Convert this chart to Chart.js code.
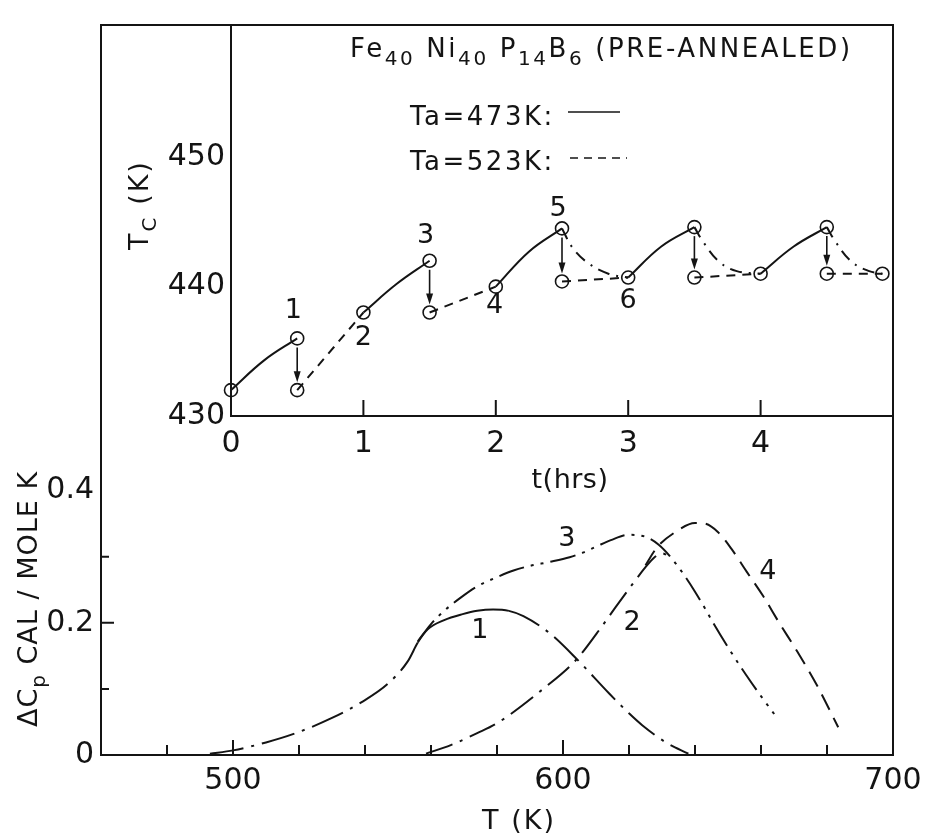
<!DOCTYPE html>
<html>
<head>
<meta charset="utf-8">
<script src="https://cdn.jsdelivr.net/npm/chart.js@4.4.1/dist/chart.umd.min.js"></script>
<style>
  html, body { margin: 0; padding: 0; background: #fff; }
  #wrap { position: relative; width: 932px; height: 840px; background: #fff; }
  #wrap canvas { position: absolute; left: 0; top: 0; }
</style>
</head>
<body>
<div id="wrap">
  <canvas id="cp" width="932" height="840"></canvas>
  <canvas id="tc" width="932" height="840"></canvas>
</div>
<script>
// ---- inset: Tc (K) vs annealing time t (hrs)
const hrsTicks = [0, 1, 2, 3, 4];
const tcTicks = [430, 440, 450];

// Ta = 473 K (solid)
const solidT = [0, 0.25, 0.5, null, 1, 1.25, 1.5, null, 2, 2.25, 2.5, null, 3, 3.25, 3.5, null, 4, 4.25, 4.5];
const solidK = [432, 434.3, 436, null, 438, 440.2, 442, null, 440, 442.7, 444.5, null, 440.7, 443.1, 444.6, null, 441, 443.1, 444.6];
// Ta = 523 K (dashed)
const dashT = [0.5, 1, null, 1.5, 2, null, 2.5, 3, null, 3.5, 4, null, 4.5, 4.92];
const dashK = [432, 438, null, 438, 440, null, 440.4, 440.7, null, 440.7, 441, null, 441, 441];
// relaxation back down after each 473 K step (dash-dot)
const decayT = [2.5, 2.58, 2.7, 2.85, 3, null, 3.5, 3.57, 3.69, 3.82, 4, null, 4.5, 4.57, 4.69, 4.82, 4.92];
const decayK = [444.5, 443.0, 441.8, 441.0, 440.7, null, 444.6, 443.4, 441.9, 441.2, 441, null, 444.6, 443.4, 441.9, 441.2, 441];
// measured points (open circles)
const ptT = [0, 0.5, 0.5, 1, 1.5, 1.5, 2, 2.5, 2.5, 3, 3.5, 3.5, 4, 4.5, 4.5, 4.92];
const ptK = [432, 436, 432, 438, 442, 438, 440, 444.5, 440.4, 440.7, 444.6, 440.7, 441, 444.6, 441, 441];
// arrows: anneal at 523 K drops Tc
const arrowT = [0.5, 1.5, 2.5, 3.5, 4.5];
const arrowFrom = [436, 442, 444.5, 444.6, 444.6];
const arrowTo = [432, 438, 440.4, 440.7, 441];
// step numbers
const stepText = ['1', '2', '3', '4', '5', '6'];
const stepT = [0.47, 1.0, 1.47, 1.99, 2.47, 3.0];
const stepK = [438.1, 436.0, 443.9, 438.5, 446.0, 438.9];

// ---- main: delta Cp vs T (K)
const tempTicks = [500, 600, 700];
const tempMinor = [480, 500, 520, 540, 560, 580, 600, 620, 640, 660, 680];
const cpTicks = [0, 0.2, 0.4];
const cpLabels = ['0', '0.2', '0.4'];
const cpMinor = [0.1, 0.2, 0.3];

const c1T = [493, 500, 510, 519, 530, 539, 547, 553, 556, 559, 564, 569.6, 574, 578.8, 583.6, 588, 596, 604, 614, 620, 624, 631.5, 638];
const c1V = [0.002, 0.007, 0.019, 0.033, 0.056, 0.08, 0.108, 0.142, 0.17, 0.19, 0.204, 0.213, 0.218, 0.22, 0.218, 0.21, 0.184, 0.146, 0.093, 0.063, 0.045, 0.018, 0.002];
const c2T = [558.5, 566, 574, 580, 594, 604, 612, 616, 621, 625, 627.5, 630, 633];
const c2V = [0.002, 0.015, 0.033, 0.048, 0.1, 0.144, 0.196, 0.224, 0.258, 0.284, 0.298, 0.305, 0.297];
const c3T = [556, 560, 564, 569, 574, 580, 585, 590, 596, 602, 606, 610, 614.5, 620, 625, 629, 633, 637, 640, 643, 645.5, 650, 655.5, 660, 664];
const c3V = [0.172, 0.198, 0.218, 0.238, 0.255, 0.269, 0.279, 0.286, 0.292, 0.299, 0.306, 0.315, 0.325, 0.333, 0.33, 0.318, 0.297, 0.27, 0.247, 0.222, 0.2, 0.163, 0.121, 0.089, 0.062];
const c4T = [625, 628.5, 634, 640, 643, 647, 651, 655.7, 660.7, 665.5, 670.8, 677, 683.4];
const c4V = [0.287, 0.314, 0.337, 0.351, 0.35, 0.337, 0.312, 0.277, 0.24, 0.2, 0.158, 0.105, 0.042];
const curveText = ['1', '2', '3', '4'];
const curveT = [574.8, 620.9, 601.2, 662.1];
const curveV = [0.188, 0.2, 0.326, 0.277];

const INK = '#141414';
const FONT = '"DejaVu Sans", sans-serif';

const pts = (xs, ys) => xs.map((x, i) => ({ x: x, y: ys[i] }));

function line(xs, ys, dash, extra) {
  return Object.assign({
    data: pts(xs, ys), borderColor: INK, borderWidth: 2, borderDash: dash,
    pointRadius: 0, fill: false, cubicInterpolationMode: 'monotone', spanGaps: false
  }, extra || {});
}

// text with subscripts: parts = [[text, isSub], ...]
function rich(ctx, parts, x, y, size, spacing, align) {
  ctx.save();
  ctx.fillStyle = INK;
  ctx.letterSpacing = spacing + 'px';
  ctx.textAlign = 'left';
  ctx.textBaseline = 'alphabetic';
  const fonts = parts.map(p => (p[1] ? Math.round(size * 0.75) : size) + 'px ' + FONT);
  const widths = parts.map((p, i) => { ctx.font = fonts[i]; return ctx.measureText(p[0]).width; });
  const total = widths.reduce((s, w) => s + w, 0);
  let cx = align === 'center' ? x - total / 2 : x;
  parts.forEach((p, i) => {
    ctx.font = fonts[i];
    ctx.fillText(p[0], cx, y + (p[1] ? size * 0.32 : 0));
    cx += widths[i];
  });
  ctx.restore();
}

function richRot(ctx, parts, cx, cy, size, spacing) {
  ctx.save();
  ctx.translate(cx, cy);
  ctx.rotate(-Math.PI / 2);
  rich(ctx, parts, 0, size * 0.36, size, spacing, 'center');
  ctx.restore();
}

const cpFrame = {
  id: 'cpFrame',
  afterDraw(chart) {
    const { ctx, chartArea: a, scales: { x, y } } = chart;
    ctx.save();
    ctx.strokeStyle = INK;
    ctx.lineWidth = 2;
    ctx.strokeRect(a.left, a.top, a.right - a.left, a.bottom - a.top);
    ctx.beginPath();
    tempMinor.forEach(v => {
      const px = x.getPixelForValue(v);
      const len = tempTicks.includes(v) ? 15 : 10;
      ctx.moveTo(px, a.bottom); ctx.lineTo(px, a.bottom - len);
    });
    cpMinor.forEach(v => {
      const py = y.getPixelForValue(v);
      const len = cpTicks.includes(v) ? 13 : 8;
      ctx.moveTo(a.left, py); ctx.lineTo(a.left + len, py);
    });
    ctx.stroke();
    ctx.restore();

    richRot(ctx, [['\u0394C', false], ['p', true], [' CAL / MOLE K', false]], 27, 599, 27, 1);
    rich(ctx, [['T (K)', false]], 519, 829, 27, 2, 'center');
    ctx.save();
    ctx.font = '27px ' + FONT;
    ctx.fillStyle = INK;
    ctx.textAlign = 'center';
    ctx.textBaseline = 'middle';
    curveText.forEach((s, i) => ctx.fillText(s, x.getPixelForValue(curveT[i]), y.getPixelForValue(curveV[i])));
    ctx.restore();
  }
};

new Chart(document.getElementById('cp'), {
  type: 'line',
  data: {
    datasets: [
      line(c1T, c1V, [34, 8, 3, 8], {
        segment: { borderDash: s => (s.p0.parsed.x >= 556 && s.p1.parsed.x <= 584) ? [] : [34, 8, 3, 8] }
      }),
      line(c2T, c2V, [28, 8, 3, 8]),
      line(c3T, c3V, [26, 7, 3, 7, 3, 7]),
      line(c4T, c4V, [17, 9])
    ]
  },
  options: {
    responsive: false, animation: false, devicePixelRatio: 1,
    layout: { padding: { top: 10, right: 39, left: 0, bottom: 0 } },
    plugins: { legend: { display: false }, tooltip: { enabled: false } },
    scales: {
      x: {
        type: 'linear', min: 460, max: 700,
        afterFit: s => { s.height = 85; },
        afterBuildTicks: s => { s.ticks = tempTicks.map(v => ({ value: v })); },
        grid: { display: false, drawTicks: false }, border: { display: false },
        ticks: { font: { family: FONT, size: 30 }, color: INK, padding: 8, maxRotation: 0 }
      },
      y: {
        type: 'linear', min: 0, max: 1.104,
        afterFit: s => { s.width = 101; },
        afterBuildTicks: s => { s.ticks = cpTicks.map(v => ({ value: v })); },
        grid: { display: false, drawTicks: false }, border: { display: false },
        ticks: {
          font: { family: FONT, size: 30 }, color: INK, padding: 7,
          callback: v => cpLabels[cpTicks.indexOf(v)]
        }
      }
    }
  },
  plugins: [cpFrame]
});

const tcFrame = {
  id: 'tcFrame',
  afterDatasetsDraw(chart) {
    const { ctx, chartArea: a, scales: { x, y } } = chart;
    ctx.save();
    ctx.strokeStyle = INK;
    ctx.fillStyle = INK;
    ctx.lineWidth = 2;
    ctx.beginPath();
    ctx.moveTo(a.left, a.top); ctx.lineTo(a.left, a.bottom); ctx.lineTo(a.right, a.bottom);
    hrsTicks.slice(1).forEach(v => {
      const px = x.getPixelForValue(v);
      ctx.moveTo(px, a.bottom); ctx.lineTo(px, a.bottom - 16);
    });
    ctx.stroke();

    // arrows
    ctx.lineWidth = 1.6;
    arrowT.forEach((t, i) => {
      const px = x.getPixelForValue(t);
      const y0 = y.getPixelForValue(arrowFrom[i]) + 9;
      const y1 = y.getPixelForValue(arrowTo[i]) - 8;
      ctx.beginPath();
      ctx.moveTo(px, y0); ctx.lineTo(px, y1 - 8);
      ctx.stroke();
      ctx.beginPath();
      ctx.moveTo(px - 3.5, y1 - 11); ctx.lineTo(px + 3.5, y1 - 11); ctx.lineTo(px, y1);
      ctx.closePath();
      ctx.fill();
    });

    // legend samples
    ctx.lineWidth = 1.6;
    ctx.beginPath(); ctx.moveTo(568, 112); ctx.lineTo(620, 112); ctx.stroke();
    ctx.setLineDash([8, 6]);
    ctx.beginPath(); ctx.moveTo(570, 158); ctx.lineTo(627, 158); ctx.stroke();
    ctx.setLineDash([]);

    ctx.font = '27px ' + FONT;
    ctx.textAlign = 'center';
    ctx.textBaseline = 'middle';
    stepText.forEach((s, i) => ctx.fillText(s, x.getPixelForValue(stepT[i]), y.getPixelForValue(stepK[i])));
    ctx.restore();

    rich(ctx, [['Fe', false], ['40', true], [' Ni', false], ['40', true], [' P', false], ['14', true], ['B', false], ['6', true], [' (PRE-ANNEALED)', false]], 350, 57, 26, 2.6, 'left');
    rich(ctx, [['Ta=473K:', false]], 410, 125, 26, 2.5, 'left');
    rich(ctx, [['Ta=523K:', false]], 410, 170, 26, 2.5, 'left');
    richRot(ctx, [['T', false], ['C', true], [' (K)', false]], 138, 205, 27, 2);
    rich(ctx, [['t(hrs)', false]], 570, 488, 27, 0.5, 'center');
  }
};

new Chart(document.getElementById('tc'), {
  type: 'line',
  data: {
    datasets: [
      line(solidT, solidK, [], { cubicInterpolationMode: 'default', tension: 0.4 }),
      line(dashT, dashK, [9, 7]),
      line(decayT, decayK, [12, 7, 2, 7], { cubicInterpolationMode: 'default', tension: 0.4 }),
      {
        data: pts(ptT, ptK), showLine: false, clip: false,
        pointRadius: 6.5, pointBackgroundColor: '#fff', pointBorderColor: INK, pointBorderWidth: 1.6
      }
    ]
  },
  options: {
    responsive: false, animation: false, devicePixelRatio: 1,
    layout: { padding: { top: 10, right: 39, left: 0, bottom: 0 } },
    plugins: { legend: { display: false }, tooltip: { enabled: false } },
    scales: {
      x: {
        type: 'linear', min: 0, max: 5.0,
        afterFit: s => { s.height = 424; },
        afterBuildTicks: s => { s.ticks = hrsTicks.map(v => ({ value: v })); },
        grid: { display: false, drawTicks: false }, border: { display: false },
        ticks: { font: { family: FONT, size: 30 }, color: INK, padding: 10, maxRotation: 0 }
      },
      y: {
        type: 'linear', min: 430, max: 460.3,
        afterFit: s => { s.width = 231; },
        afterBuildTicks: s => { s.ticks = tcTicks.map(v => ({ value: v })); },
        grid: { display: false, drawTicks: false }, border: { display: false },
        ticks: { font: { family: FONT, size: 30 }, color: INK, padding: 6 }
      }
    }
  },
  plugins: [tcFrame]
});
</script>
</body>
</html>
